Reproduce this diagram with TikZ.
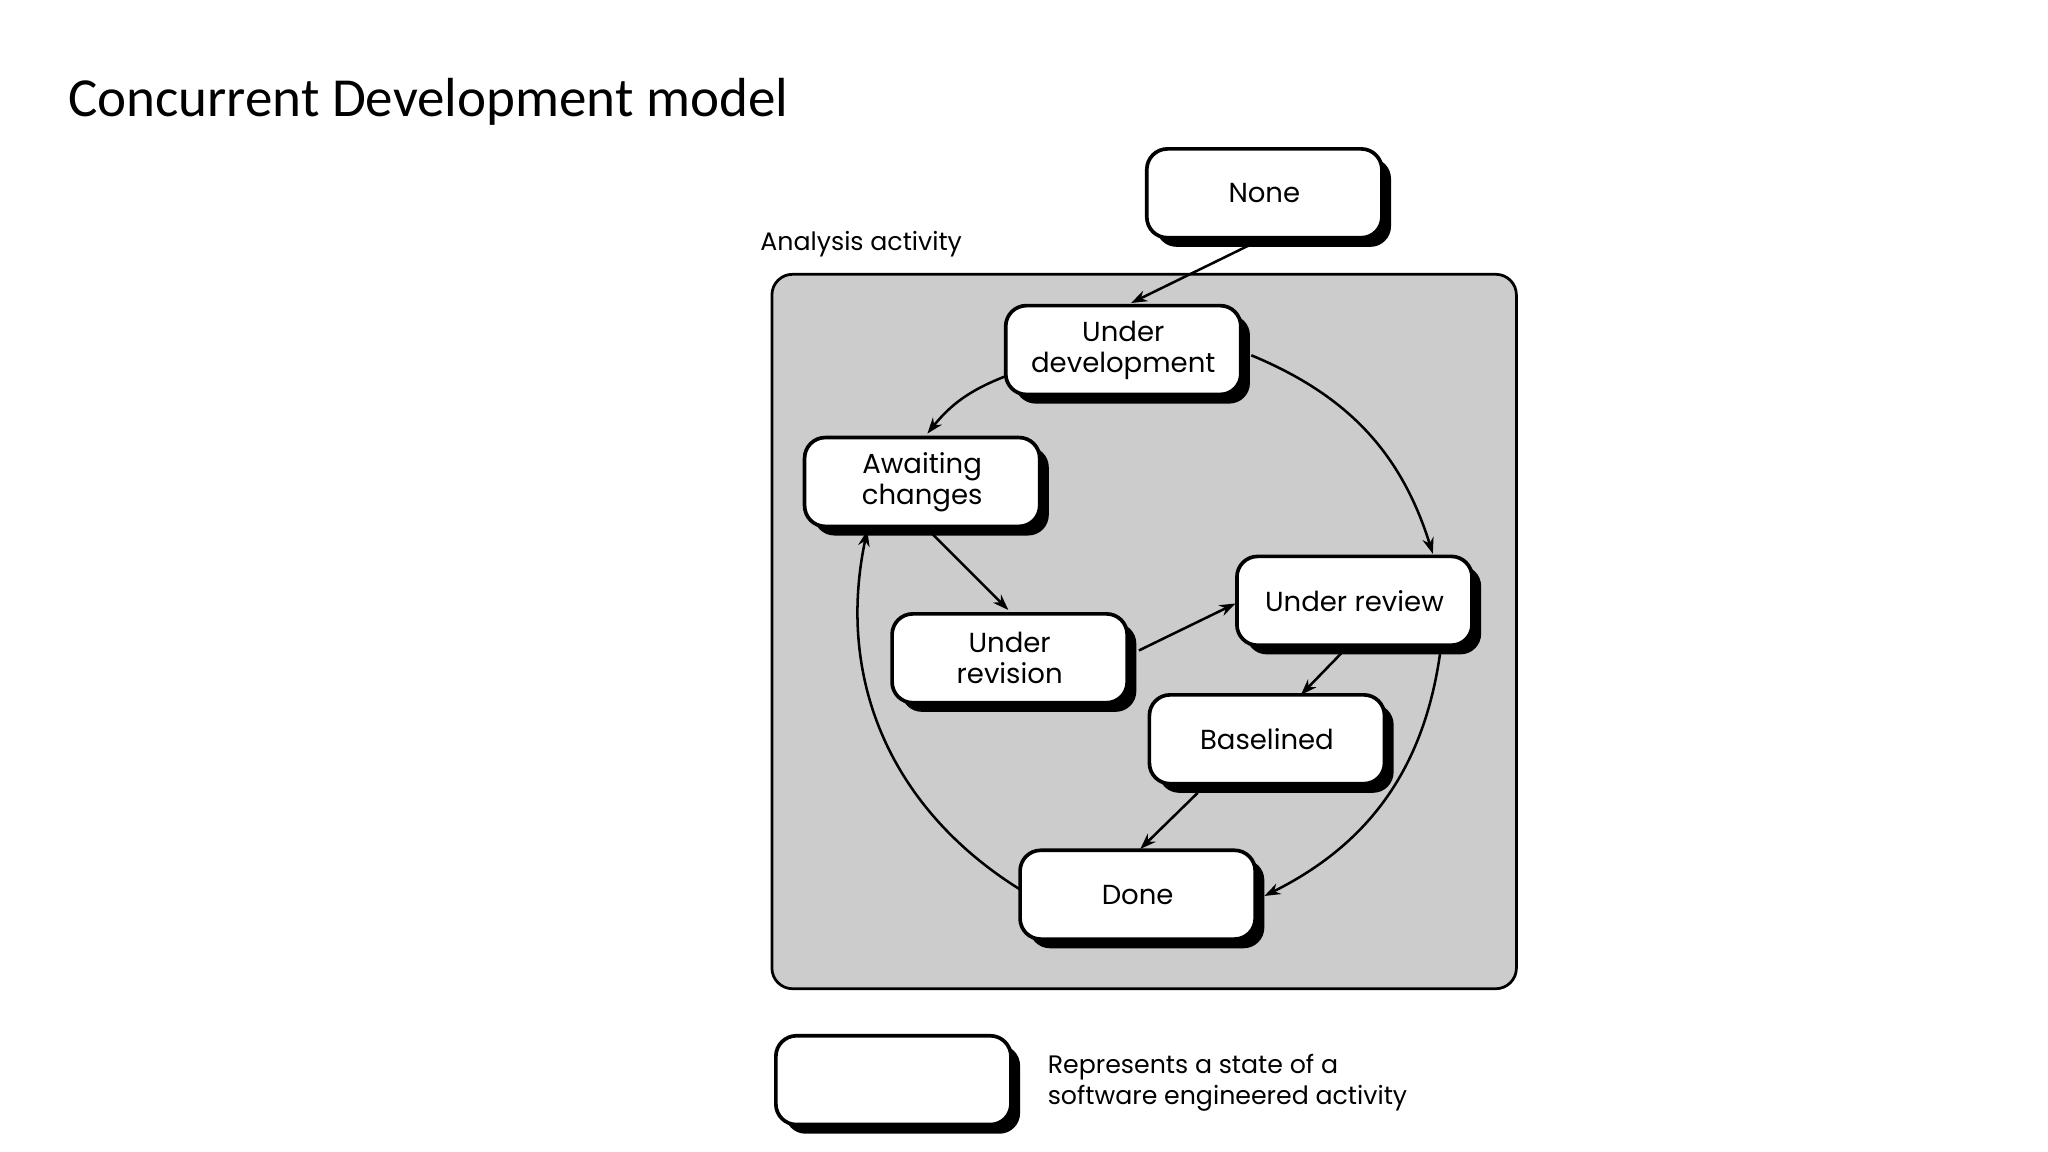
\documentclass[tikz,border=0pt]{standalone}
\usepackage{fontspec}
\setmainfont{Carlito}
\newfontfamily\diag{Poppins}
\usetikzlibrary{arrows.meta}
\begin{document}
\begin{tikzpicture}[x=0.02cm,y=-0.02cm,
 st/.style={draw=black,line width=1.6pt,fill=white,rounded corners=9pt,minimum width=180*0.02cm,minimum height=68*0.02cm,align=center,font=\diag\fontsize{12}{13.5}\selectfont,inner sep=0pt,
   append after command={}},
 sh/.style={fill=black,rounded corners=9pt},
 ar/.style={line width=1.1pt,-{Stealth[length=7pt,width=5pt]}}]
\useasboundingbox (0,0) rectangle (1568,882);
\node[anchor=west,font=\fontsize{24}{28}\selectfont] (title) at (46,78) {Concurrent Development model};
\node[anchor=west,font=\diag\fontsize{11}{13}\selectfont] (lbl) at (576,187) {Analysis activity};
\draw[line width=1.2pt,fill=black!20,rounded corners=9pt] (591,210) rectangle (1161,757);
\foreach \n/\x/\y/\t in {none/968/148/None, ud/860/268/{Under\\development}, ac/706/369/{Awaiting\\changes}, ur/773/504/{Under\\revision}, rev/1037/460/{Under review}, bl/970/566/Baselined, dn/871/685/Done, lg/684/827/{}}{
 \fill[sh] (\x-83,\y-27) rectangle (\x+97,\y+41);
 \node[st] (\n) at (\x,\y) {\t};
}
\node[anchor=west,align=left,font=\diag\fontsize{11}{13.5}\selectfont] (lgt) at (796,829) {Represents a state of a\\software engineered activity};
\draw[ar] (958,187) -- (866,232);
\draw[ar] (770,288) to[bend right=15] (710,332);
\draw[ar] (713,408) -- (772,467);
\draw[ar] (872,498) -- (946,462);
\draw[ar] (958,272) to[bend left=25] (1097,424);
\draw[ar] (1030,497) -- (996,532);
\draw[ar] (917,607) -- (873,650);
\draw[ar] (1103,497) to[bend left=28] (968,686);
\draw[ar] (781,681) to[bend left=35] (664,406);
\end{tikzpicture}
\end{document}
